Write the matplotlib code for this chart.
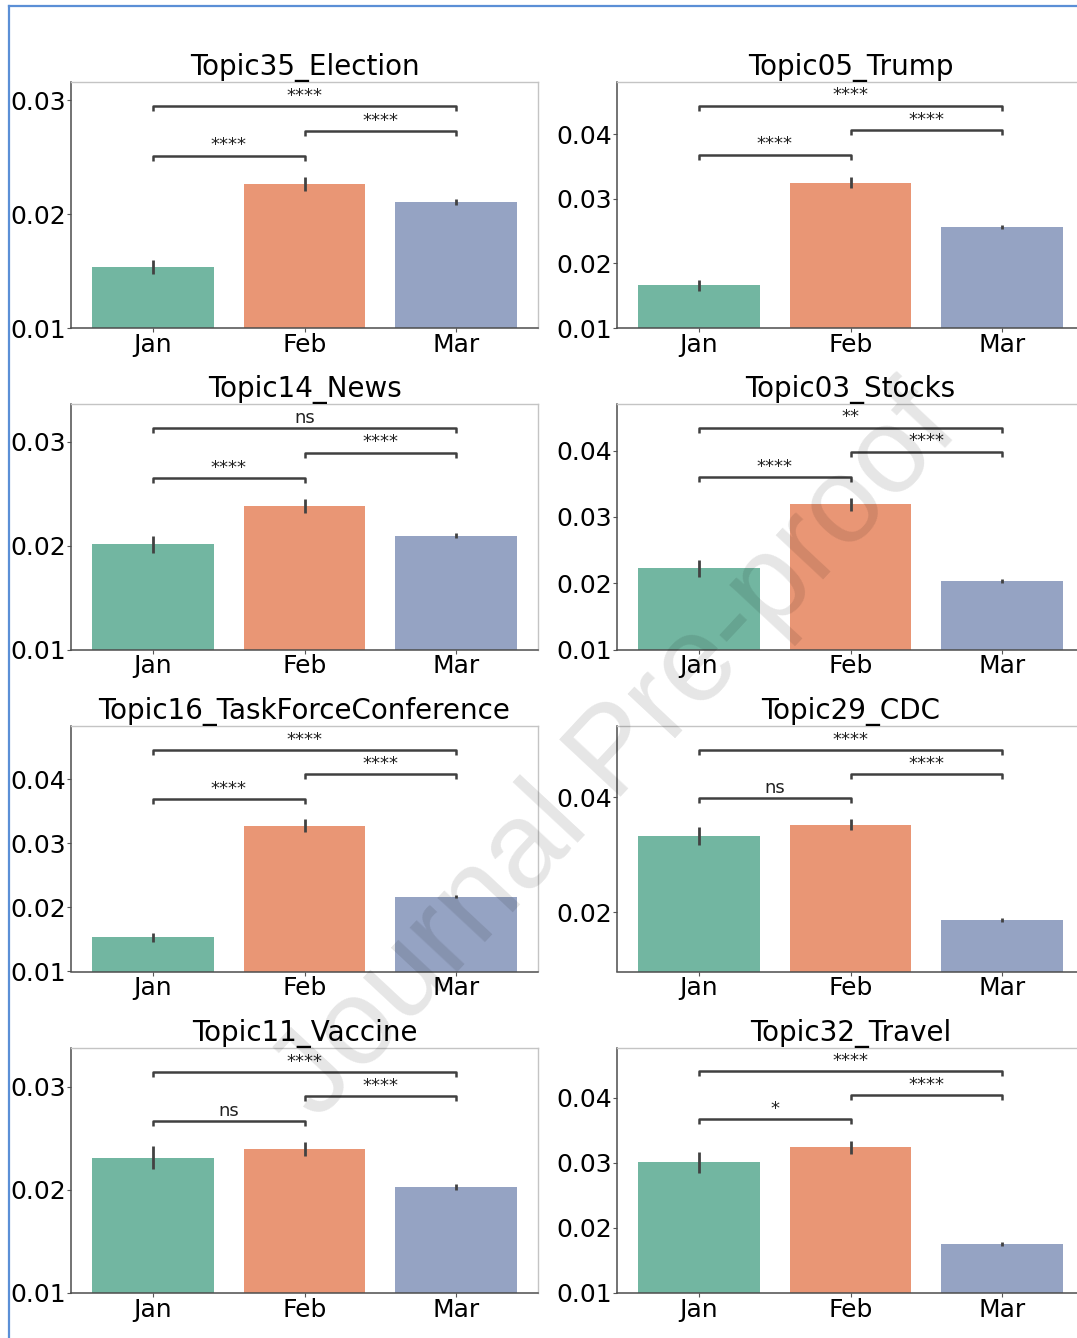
import matplotlib
matplotlib.use("Agg")
import matplotlib.pyplot as plt
from matplotlib.lines import Line2D
import seaborn as sns

# ---- data -----------------------------------------------------------------
months = ["Jan", "Feb", "Mar"]

topics = ["Topic35_Election", "Topic05_Trump",
          "Topic14_News", "Topic03_Stocks",
          "Topic16_TaskForceConference", "Topic29_CDC",
          "Topic11_Vaccine", "Topic32_Travel"]

# mean topic proportion per month
means = [[0.01534, 0.02267, 0.02108],
         [0.01660, 0.03250, 0.02557],
         [0.02013, 0.02381, 0.02096],
         [0.02224, 0.03195, 0.02027],
         [0.01533, 0.03274, 0.02169],
         [0.03330, 0.03521, 0.01861],
         [0.02315, 0.02398, 0.02029],
         [0.03003, 0.03238, 0.01748]]

# half-width of the confidence interval
errors = [[0.00062, 0.00060, 0.00025],
          [0.00083, 0.00090, 0.00030],
          [0.00082, 0.00064, 0.00027],
          [0.00126, 0.00098, 0.00030],
          [0.00072, 0.00098, 0.00030],
          [0.00156, 0.00098, 0.00030],
          [0.00109, 0.00065, 0.00026],
          [0.00159, 0.00102, 0.00033]]

y_limits = [(0.01, 0.03156), (0.01, 0.0480),
            (0.01, 0.03362), (0.01, 0.04705),
            (0.01, 0.04827), (0.00965, 0.05243),
            (0.01, 0.03383), (0.01, 0.04768)]

y_ticks = [[0.01, 0.02, 0.03], [0.01, 0.02, 0.03, 0.04],
           [0.01, 0.02, 0.03], [0.01, 0.02, 0.03, 0.04],
           [0.01, 0.02, 0.03, 0.04], [0.02, 0.04],
           [0.01, 0.02, 0.03], [0.01, 0.02, 0.03, 0.04]]

# pairwise comparisons: Jan-Feb, Feb-Mar, Jan-Mar
pairs = [(0, 1), (1, 2), (0, 2)]
sig_labels = [["****", "****", "****"],
              ["****", "****", "****"],
              ["****", "****", "ns"],
              ["****", "****", "**"],
              ["****", "****", "****"],
              ["ns", "****", "****"],
              ["ns", "****", "****"],
              ["*", "****", "****"]]
bracket_levels = [[0.02513, 0.02727, 0.02946],
                  [0.03683, 0.04058, 0.04441],
                  [0.02650, 0.02894, 0.03133],
                  [0.03607, 0.03985, 0.04350],
                  [0.03688, 0.04076, 0.04449],
                  [0.03982, 0.04400, 0.04827],
                  [0.02670, 0.02910, 0.03146],
                  [0.03668, 0.04037, 0.04410]]

# ---- figure ---------------------------------------------------------------
W, H = 1077, 1338
fig = plt.figure(figsize=(W / 100, H / 100), dpi=100)
fig.patch.set_facecolor("white")

colors = sns.color_palette("Set2", 3, desat=0.75)

col_left_px = [71, 617]
row_bottom_px = [328, 649.5, 971.5, 1293]
ax_w_px, ax_h_px = 467, 245.5

for i, topic in enumerate(topics):
    r, c = divmod(i, 2)
    left = col_left_px[c] / W
    bottom = 1 - row_bottom_px[r] / H
    ax = fig.add_axes([left, bottom, ax_w_px / W, ax_h_px / H])

    x = range(len(months))
    ax.bar(x, means[i], width=0.8, color=colors, edgecolor="none", zorder=2)
    ax.errorbar(x, means[i], yerr=errors[i], fmt="none",
                ecolor="#424242", elinewidth=2, capsize=0, zorder=3)

    ax.set_xlim(-0.54, 2.54)
    ax.set_ylim(*y_limits[i])
    ax.set_xticks(list(x))
    ax.set_xticklabels(months, fontsize=18)
    ax.set_yticks(y_ticks[i])
    ax.set_yticklabels([f"{t:.2f}" for t in y_ticks[i]], fontsize=18)
    ax.tick_params(axis="y", length=3, pad=0.3, color="#555555")
    ax.tick_params(axis="x", length=3, pad=0.5, color="#555555")
    ax.set_title(topic, fontsize=20, pad=2.5)

    for side in ("left", "bottom"):
        ax.spines[side].set_color("#4d4d4d")
        ax.spines[side].set_linewidth(1.1)
    for side in ("top", "right"):
        ax.spines[side].set_color("#c4c4c4")
        ax.spines[side].set_linewidth(1.0)

    # significance brackets
    y0, y1 = y_limits[i]
    tick_h = (y1 - y0) * 5.0 / ax_h_px
    for (a, b), lvl, lab in zip(pairs, bracket_levels[i], sig_labels[i]):
        ax.plot([a, a, b, b], [lvl - tick_h, lvl, lvl, lvl - tick_h],
                color="#404040", lw=1.8, zorder=4, solid_capstyle="butt")
        ax.text((a + b) / 2, lvl + tick_h * 0.25, lab, ha="center",
                va="bottom", fontsize=13, color="#222222", zorder=5)

# watermark
fig.text(0.572, 0.436, "Journal Pre-proof", fontsize=88,
         family=["Liberation Sans", "DejaVu Sans"], rotation=47,
         ha="center", va="center", color="black", alpha=0.1, zorder=10)

# page frame
frame = "#5b8fd6"
fig.add_artist(Line2D([8.5 / W, 8.5 / W], [0, 1 - 5.5 / H],
                      color=frame, lw=1.6, transform=fig.transFigure))
fig.add_artist(Line2D([8.5 / W, 1], [1 - 5.5 / H, 1 - 5.5 / H],
                      color=frame, lw=1.6, transform=fig.transFigure))

fig.savefig("out.png", dpi=100)
